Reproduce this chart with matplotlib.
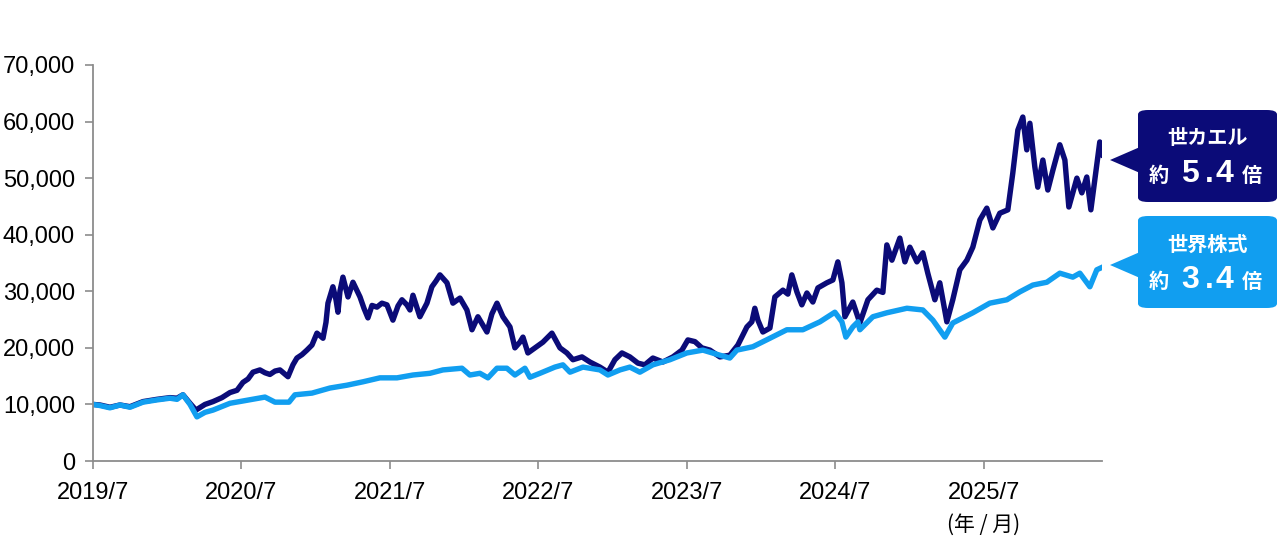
import matplotlib
matplotlib.use("Agg")
import matplotlib.pyplot as plt
from matplotlib.patches import FancyBboxPatch, Polygon
from matplotlib.ticker import FuncFormatter

plt.rcParams['font.family'] = ['Liberation Sans', 'Noto Sans CJK JP']

# months since 2019/7, value (start = 10,000)
sekakaeru_month = [0.0, 0.57, 1.37, 2.18, 2.99, 4.04, 5.17, 6.22, 6.79, 7.27, 7.84, 8.32, 9.05, 9.70,
                   10.42, 11.07, 11.64, 12.12, 12.53, 12.93, 13.49, 13.9, 14.3, 14.71, 15.11, 15.76,
                   16.16, 16.48, 16.89, 17.29, 17.70, 18.10, 18.59, 18.83, 18.99, 19.39, 19.64, 19.80,
                   19.96, 20.20, 20.61, 21.01, 21.25, 21.58, 21.9, 22.22, 22.55, 22.95, 23.35, 23.76,
                   24.24, 24.65, 24.97, 25.37, 25.62, 25.86, 26.42, 26.99, 27.39, 27.72, 28.04, 28.61,
                   29.09, 29.66, 30.22, 30.63, 31.11, 31.52, 31.84, 32.24, 32.65, 33.13, 33.70, 34.1,
                   34.5, 34.75, 35.15, 35.72, 36.36, 37.09, 37.74, 38.30, 38.79, 39.52, 40.16, 40.97,
                   41.62, 42.18, 42.75, 43.39, 44.04, 44.6, 45.25, 46.06, 46.87, 47.6, 48.08, 48.65,
                   49.21, 49.86, 50.67, 51.47, 52.12, 52.85, 53.25, 53.49, 53.74, 54.14, 54.71, 55.11,
                   55.76, 56.16, 56.48, 56.89, 57.29, 57.70, 58.18, 58.59, 59.31, 59.80, 60.20, 60.53,
                   60.77, 61.41, 61.98, 62.63, 63.35, 63.84, 64.16, 64.57, 65.21, 65.62, 66.02, 66.59,
                   67.07, 67.47, 68.04, 68.44, 69.01, 69.49, 70.06, 70.63, 71.11, 71.68, 72.24, 72.73,
                   73.29, 73.94, 74.34, 74.75, 75.15, 75.47, 75.72, 76.12, 76.36, 76.77, 77.17, 77.58,
                   78.14, 78.55, 78.87, 79.52, 79.92, 80.32, 80.65, 80.97, 81.37, 81.62]
sekakaeru_value = [10000, 9900, 9500, 9900, 9600, 10500, 10900, 11200, 11100, 11700, 10200, 9000, 10000, 10500,
                   11200, 12100, 12500, 13900, 14500, 15700, 16100, 15600, 15300, 15900, 16100, 14900,
                   17000, 18200, 18800, 19600, 20500, 22600, 21700, 24500, 27900, 30800, 28500, 26300,
                   30000, 32500, 29000, 31600, 30500, 29000, 27000, 25300, 27500, 27200, 27900, 27600,
                   24900, 27400, 28500, 27600, 26700, 29300, 25500, 27900, 30800, 31800, 32900, 31500,
                   27900, 28800, 26700, 23200, 25500, 24000, 22800, 26000, 27900, 25500, 23700, 20000,
                   21000, 21900, 19100, 20000, 21000, 22600, 20000, 19100, 17900, 18400, 17500, 16600,
                   15700, 17900, 19100, 18400, 17300, 17000, 18200, 17500, 18400, 19600, 21400, 21100,
                   20000, 19600, 18400, 18700, 20500, 23700, 24600, 27000, 24900, 22800, 23500, 29000,
                   30200, 29500, 32900, 29900, 27600, 29700, 28100, 30600, 31500, 32000, 35200, 31500,
                   25500, 28100, 24400, 28500, 30200, 29800, 38200, 35500, 39400, 35200, 37800, 35200,
                   36800, 33200, 28500, 31500, 24600, 28500, 33800, 35500, 37800, 42600, 44700, 41200,
                   43800, 44400, 50900, 58500, 60800, 55000, 59700, 52000, 48400, 53200, 47900, 51400,
                   55900, 53200, 44900, 50000, 47400, 50200, 44400, 49700, 56400, 54100]

world_month = [0.0, 0.57, 1.37, 2.18, 2.99, 4.04, 5.17, 6.22, 6.79, 7.27, 7.84, 8.40, 9.05, 9.70,
               11.07, 12.61, 13.9, 14.71, 15.84, 16.32, 17.7, 19.15, 20.53, 21.82, 23.19, 24.57,
               25.86, 27.23, 28.28, 29.82, 30.46, 31.27, 31.92, 32.65, 33.45, 34.1, 34.91, 35.31,
               36.12, 37.33, 37.98, 38.55, 39.6, 40.97, 41.62, 42.59, 43.39, 44.2, 45.25, 46.63,
               48.0, 49.29, 50.67, 51.47, 52.04, 53.33, 54.71, 56.08, 57.37, 58.75, 59.96, 60.53,
               60.85, 61.41, 61.82, 61.98, 63.03, 64.16, 65.78, 67.07, 67.88, 68.85, 69.49, 71.11,
               72.48, 73.86, 74.91, 75.96, 77.09, 78.14, 79.19, 79.76, 80.57, 81.13, 81.62]
world_value = [10000, 9800, 9400, 9900, 9500, 10400, 10800, 11100, 10900, 11700, 10000, 7800, 8600, 9000,
               10200, 10800, 11300, 10400, 10400, 11700, 12000, 12900, 13400, 14000, 14700, 14700,
               15200, 15500, 16100, 16400, 15200, 15500, 14700, 16400, 16400, 15200, 16400, 14800,
               15500, 16600, 17000, 15700, 16600, 16100, 15200, 16100, 16600, 15700, 17000, 17900,
               19100, 19600, 18700, 18200, 19600, 20200, 21700, 23200, 23200, 24600, 26300, 24600,
               21900, 23700, 24600, 23200, 25500, 26200, 27000, 26700, 24900, 21900, 24400, 26200,
               27900, 28500, 29900, 31100, 31600, 33200, 32500, 33200, 30800, 33800, 34300]

tick_months = [0, 12, 24, 36, 48, 60, 72]
tick_labels = ["2019/7", "2020/7", "2021/7", "2022/7", "2023/7", "2024/7", "2025/7"]

dark = "#0b0b78"
light = "#119ef0"
axis_gray = "#8c8c8c"

fig = plt.figure(figsize=(12.8, 5.6), dpi=100)
ax = fig.add_axes([93 / 1280, 99 / 560, 1009 / 1280, 396 / 560])

ax.plot(sekakaeru_month, sekakaeru_value, color=dark, lw=3.9, solid_joinstyle='round')
ax.plot(world_month, world_value, color=light, lw=3.9, solid_joinstyle='round')

ax.set_xlim(0, 81.55)
ax.set_ylim(0, 70000)
ax.set_yticks(range(0, 70001, 10000))
ax.yaxis.set_major_formatter(FuncFormatter(lambda v, p: "{:,.0f}".format(v)))
ax.set_xticks(tick_months)
ax.set_xticklabels(tick_labels)

ax.spines['top'].set_visible(False)
ax.spines['right'].set_visible(False)
for s in ['left', 'bottom']:
    ax.spines[s].set_color(axis_gray)
    ax.spines[s].set_linewidth(1.3)
ax.tick_params(axis='both', direction='out', length=6, width=1.2, color=axis_gray,
               labelsize=17, labelcolor='black')
ax.tick_params(axis='y', pad=7)
ax.tick_params(axis='x', pad=9)

fig.text(984 / 1280, 1 - 525 / 560, "(年 / 月)", ha='center', va='center', fontsize=15,
         family=['Noto Sans CJK JP', 'DejaVu Sans'])

# callout boxes
def callout(top, tip_y, color, title, times):
    x0, x1 = 1138, 1277
    y0, y1 = top, top + 92
    box = FancyBboxPatch((x0 / 1280, 1 - y1 / 560), (x1 - x0) / 1280, (y1 - y0) / 560,
                         boxstyle="round,pad=0,rounding_size=0.008", transform=fig.transFigure,
                         facecolor=color, edgecolor='none')
    fig.patches.append(box)
    tri = Polygon([(1110 / 1280, 1 - tip_y / 560), (1140 / 1280, 1 - (tip_y - 13) / 560),
                   (1140 / 1280, 1 - (tip_y + 13) / 560)], closed=True,
                  transform=fig.transFigure, facecolor=color, edgecolor='none')
    fig.patches.append(tri)
    cjk = ['Noto Sans CJK JP', 'DejaVu Sans']
    fig.text(1207 / 1280, 1 - (top + 28) / 560, title, ha='center', va='center', color='white',
             fontsize=14.5, fontweight='bold', family=cjk)
    fig.text(1159 / 1280, 1 - (top + 65) / 560, "約", ha='center', va='center', color='white',
             fontsize=14.5, fontweight='bold', family=cjk)
    # big multiplier, drawn with a bit of letter spacing
    for ch, cx in zip(times, [1190, 1209, 1224]):
        fig.text(cx / 1280, 1 - (top + 64) / 560, ch, ha='center', va='center', color='white',
                 fontsize=23, fontweight='bold', family=['Liberation Sans'])
    fig.text(1252 / 1280, 1 - (top + 65) / 560, "倍", ha='center', va='center', color='white',
             fontsize=14.5, fontweight='bold', family=cjk)

callout(110, 160, dark, "世カエル", "5.4")
callout(216, 265, light, "世界株式", "3.4")

fig.savefig("out.png", dpi=100)
